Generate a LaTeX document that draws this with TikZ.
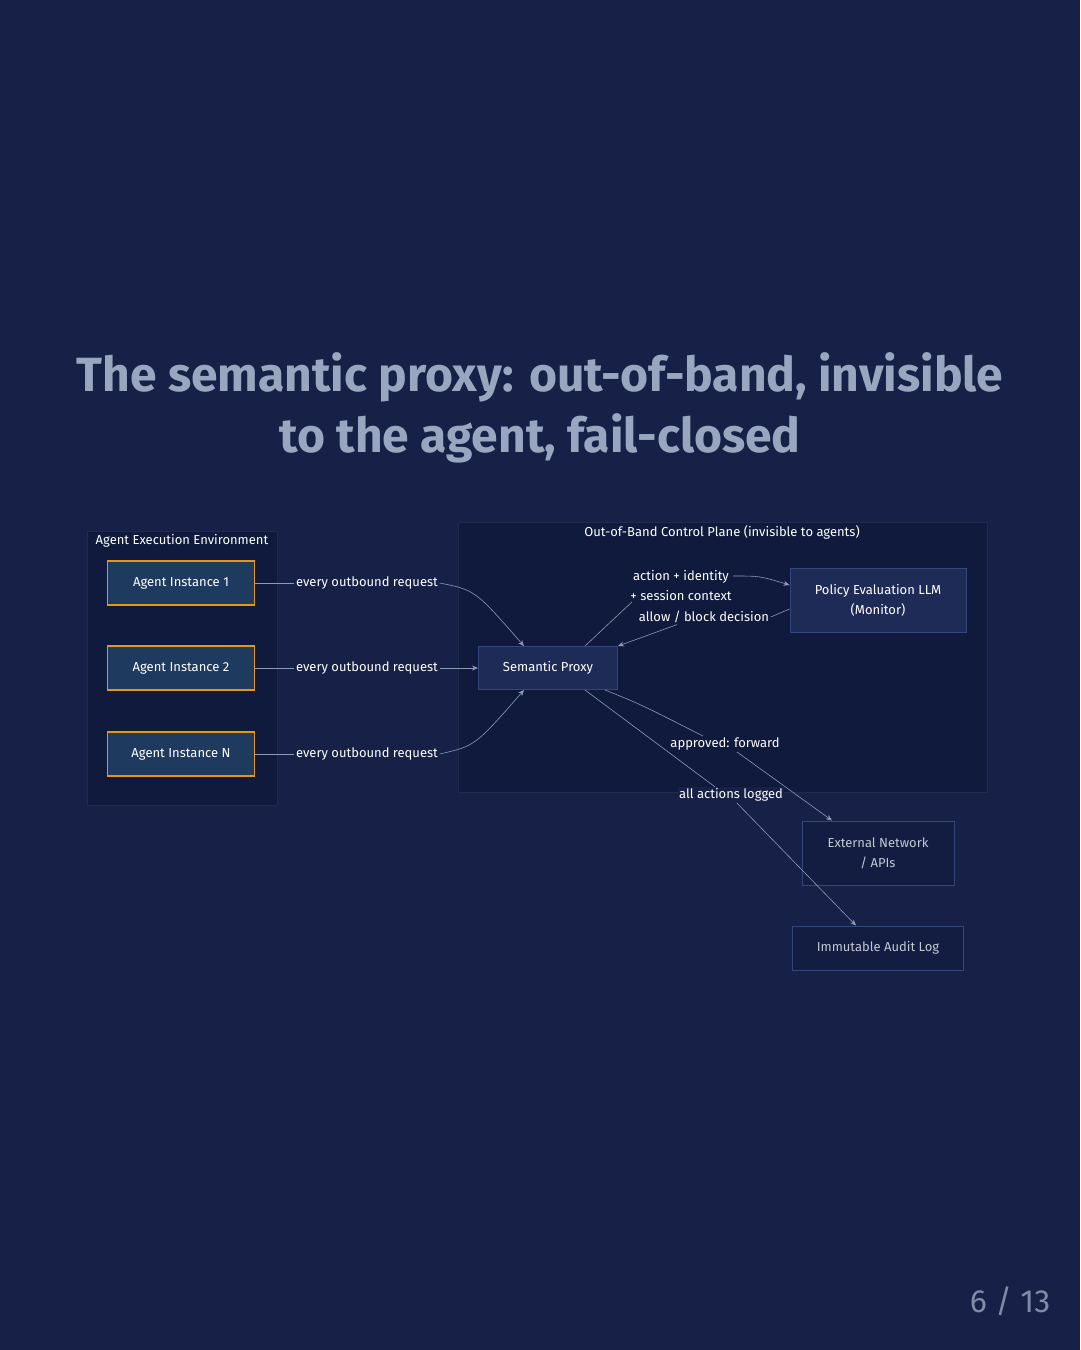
\documentclass[tikz,border=0pt]{standalone}
\usepackage{fontspec}
\setmainfont{Fira Sans}
\usetikzlibrary{arrows.meta}
\definecolor{bg}{HTML}{172046}
\definecolor{zone}{HTML}{0F1A3C}
\definecolor{zoneedge}{HTML}{1E2A50}
\definecolor{agentfill}{HTML}{1E3A5F}
\definecolor{orangeedge}{HTML}{E8960F}
\definecolor{proxfill}{HTML}{1F2B57}
\definecolor{proxedge}{HTML}{34467A}
\definecolor{extfill}{HTML}{131D42}
\definecolor{titlec}{HTML}{98A7BF}
\definecolor{edgec}{HTML}{8C9BB8}
\begin{document}
\begin{tikzpicture}[x=1pt,y=-1pt,
  txt/.style={text=white,font=\fontsize{13}{16}\selectfont},
  zonebox/.style={draw=zoneedge,fill=zone,line width=1pt},
  agent/.style={draw=orangeedge,fill=agentfill,line width=1.6pt,minimum width=147pt,minimum height=44pt,txt},
  prox/.style={draw=proxedge,fill=proxfill,line width=1pt,txt,align=center},
  ext/.style={draw=proxedge,fill=extfill,line width=1pt,text=white!75!bg,font=\fontsize{13}{20}\selectfont,align=center},
  conn/.style={draw=edgec,line width=0.6pt},
  arr/.style={conn,-{Stealth[length=6pt,width=5pt]}},
  lab/.style={txt,fill=#1,inner sep=1.5pt,align=center,font=\fontsize{13}{20}\selectfont},
  lab/.default=bg]
\fill[bg] (0,0) rectangle (1080,1350);
\useasboundingbox (0,0) rectangle (1080,1350);
\node[text=titlec,font=\bfseries\fontsize{48}{61}\selectfont,align=center] (title) at (540,408) {The semantic proxy: out-of-band, invisible\\to the agent, fail-closed};
% zones
\draw[zonebox] (87,531) rectangle (277,805);
\node[txt] (envlab) at (182,541) {Agent Execution Environment};
\draw[zonebox] (458,522) rectangle (987,792);
\node[txt] (cplab) at (722,532) {Out-of-Band Control Plane (invisible to agents)};
% nodes
\node[agent] (a1) at (181,583) {Agent Instance 1};
\node[agent] (a2) at (181,668) {Agent Instance 2};
\node[agent] (an) at (181,754) {Agent Instance N};
\node[prox,minimum width=139pt,minimum height=43pt] (sp) at (548,668) {Semantic Proxy};
\node[prox,minimum width=176pt,minimum height=64pt,font=\fontsize{13}{20}\selectfont] (pol) at (878,600) {Policy Evaluation LLM\\(Monitor)};
\node[ext,minimum width=152pt,minimum height=64pt] (ex) at (878,853) {External Network\\/ APIs};
\node[ext,minimum width=171pt,minimum height=44pt] (au) at (878,948) {Immutable Audit Log};
% edge labels
\node[lab] (l1) at (367,583) {every outbound request};
\node[lab] (l2) at (367,668) {every outbound request};
\node[lab] (l3) at (367,754) {every outbound request};
\node[lab=zone] (l4) at (681,585) {action + identity\\+ session context};
\node[lab=zone,font=\fontsize{13}{16}\selectfont] (l5) at (704,617) {allow / block decision};
\node[lab=zone,font=\fontsize{13}{16}\selectfont] (l6) at (725,744) {approved: forward};
\node[lab,font=\fontsize{13}{16}\selectfont] (l7) at (731,795) {all actions logged};
% edges
\draw[conn] (a1.east) -- (l1.west);
\draw[arr] (l1.east) .. controls (475,590) .. (sp.north west -| 524,0);
\draw[conn] (a2.east) -- (l2.west);
\draw[arr] (l2.east) -- (sp.west);
\draw[conn] (an.east) -- (l3.west);
\draw[arr] (l3.east) .. controls (475,746) .. (sp.south west -| 524,0);
\draw[conn] (sp.north west -| 585,0) -- (l4.south -| 632,0);
\draw[arr] (l4.east |- 0,576) .. controls (760,576) .. (pol.west |- 0,585);
\draw[conn] (pol.west |- 0,609) -- (l5.east);
\draw[arr] (l5.south -| 677,0) -- (sp.north east);
\draw[conn] (sp.south east -| 605,0) .. controls (640,704) .. (l6.north -| 703,0);
\draw[arr] (l6.south -| 737,0) -- (ex.north -| 832,0);
\draw[conn] (sp.south east -| 585,0) -- (l7.north -| 715,0);
\draw[arr] (l7.south -| 737,0) -- (au.north -| 856,0);
\node[text=titlec!80!bg,font=\fontsize{32}{38}\selectfont] (pg) at (1010,1301) {6 / 13};
\end{tikzpicture}
\end{document}
